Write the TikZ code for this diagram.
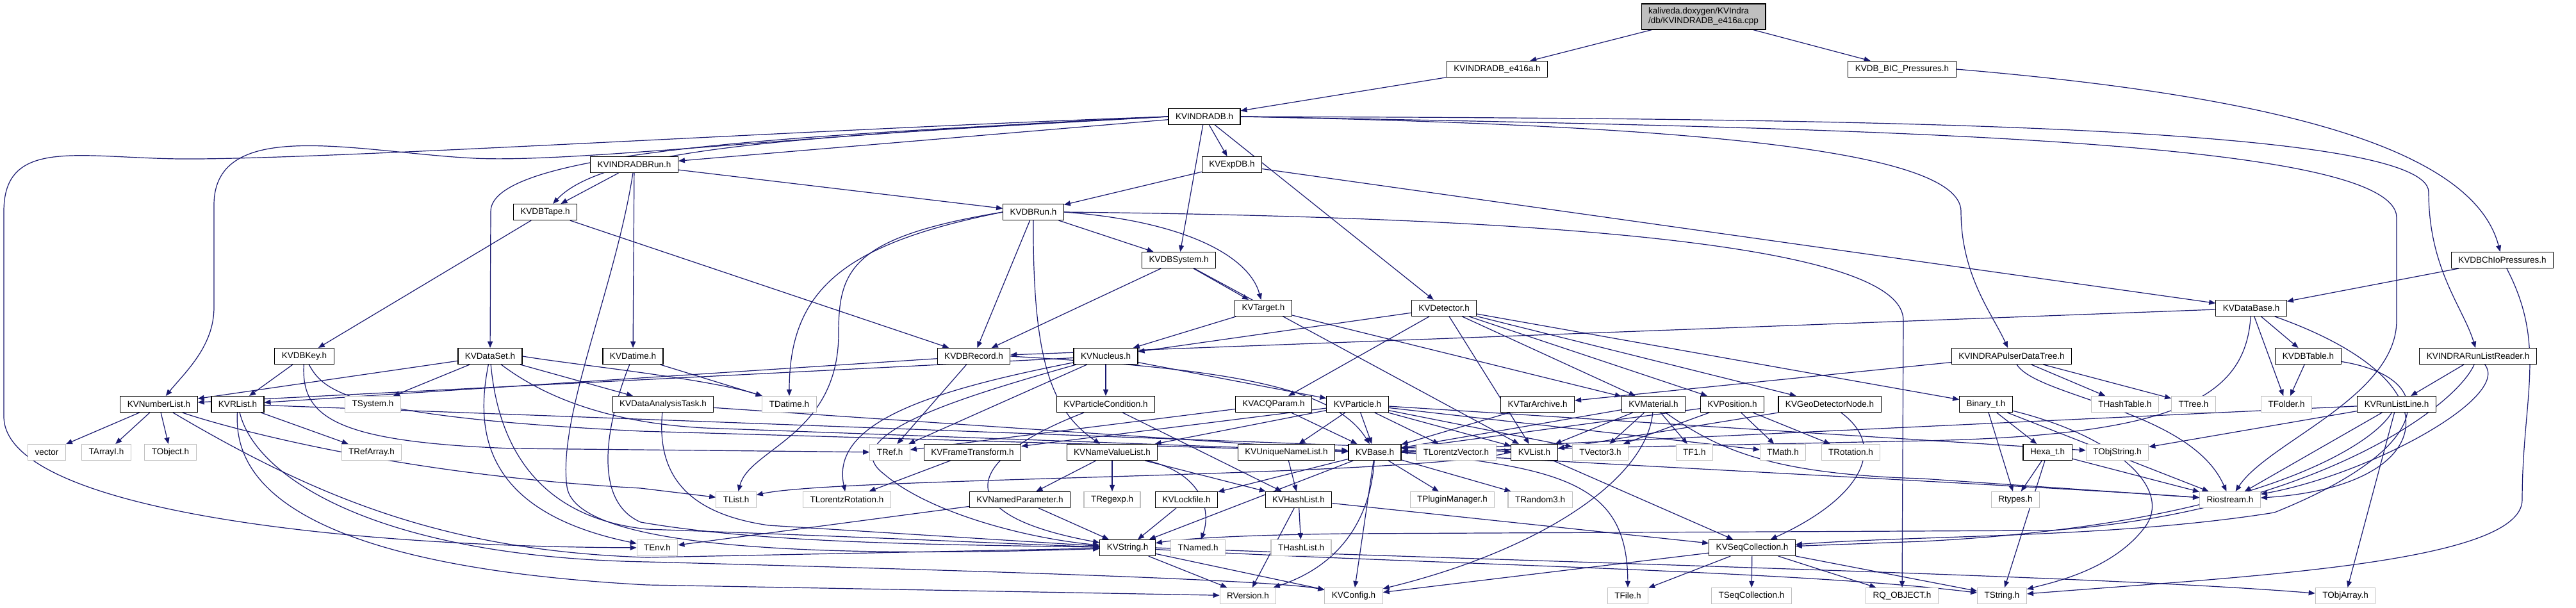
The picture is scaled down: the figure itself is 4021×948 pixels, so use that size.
\documentclass[tikz,border=0pt]{standalone}
\usepackage{fontspec}
\setmainfont{Liberation Sans}
\usetikzlibrary{arrows.meta,backgrounds}
\definecolor{edgeblue}{RGB}{25,25,112}
\definecolor{sysgray}{RGB}{191,191,191}

\begin{document}
\begin{tikzpicture}[
        x=1pt, y=-1pt,
        every node/.style={font=\fontsize{13.5}{15}\selectfont},
        box/.style={draw=black, line width=1.1pt, fill=white, minimum height=25pt, inner xsep=11pt, inner ysep=0pt},
        sysbox/.style={box, draw=sysgray},
        dep/.style={draw=edgeblue, line width=1.2pt, -{Triangle[length=10pt,width=8pt]}},
    ]
        \useasboundingbox (0,0) rectangle (4021,948);

        % --- Source file and first includes ---
        \node[box, fill=sysgray, align=left, minimum height=40pt, inner ysep=3pt] (cpp) at (2659,26)
              {kaliveda.doxygen/KVIndra\\/db/KVINDRADB\_e416a.cpp};
        \node[box] (e416a) at (2337,108) {KVINDRADB\_e416a.h};
        \node[box] (bic)   at (2969,108) {KVDB\_BIC\_Pressures.h};
        \node[box] (indradb) at (1880,182) {KVINDRADB.h};

        % --- Data base classes ---
        \node[box] (indradbrun) at (990,257)  {KVINDRADBRun.h};
        \node[box] (expdb)      at (1923,257) {KVExpDB.h};
        \node[box] (dbtape)     at (851,331)  {KVDBTape.h};
        \node[box] (dbrun)      at (1613,331) {KVDBRun.h};
        \node[box] (dbsystem)   at (1840,406) {KVDBSystem.h};
        \node[box] (dbchio)     at (3906,406) {KVDBChIoPressures.h};
        \node[box] (target)     at (1972,481) {KVTarget.h};
        \node[box] (detector)   at (2254,481) {KVDetector.h};
        \node[box] (database)   at (3514,481) {KVDataBase.h};

        \node[box] (dbkey)      at (475,556)  {KVDBKey.h};
        \node[box] (dataset)    at (765,556)  {KVDataSet.h};
        \node[box] (datime)     at (988,556)  {KVDatime.h};
        \node[box] (dbrecord)   at (1520,556) {KVDBRecord.h};
        \node[box] (nucleus)    at (1726,556) {KVNucleus.h};
        \node[box] (pulser)     at (3140,556) {KVINDRAPulserDataTree.h};
        \node[box] (dbtable)    at (3603,556) {KVDBTable.h};
        \node[box] (listreader) at (3868,556) {KVINDRARunListReader.h};

        % --- Row of helper classes ---
        \node[box]    (numberlist) at (248,631)  {KVNumberList.h};
        \node[box]    (rlist)      at (371,631)  {KVRList.h};
        \node[sysbox] (tsystem)    at (582,631)  {TSystem.h};
        \node[box]    (anatask)    at (1035,631) {KVDataAnalysisTask.h};
        \node[sysbox] (tdatime)    at (1232,631) {TDatime.h};
        \node[box]    (partcond)   at (1726,631) {KVParticleCondition.h};
        \node[box]    (acqparam)   at (1988,631) {KVACQParam.h};
        \node[box]    (particle)   at (2119,631) {KVParticle.h};
        \node[box]    (tararchive) at (2400,631) {KVTarArchive.h};
        \node[box]    (material)   at (2581,631) {KVMaterial.h};
        \node[box]    (position)   at (2704,631) {KVPosition.h};
        \node[box]    (geonode)    at (2856,631) {KVGeoDetectorNode.h};
        \node[box]    (binary)     at (3100,631) {Binary\_t.h};
        \node[sysbox] (thashtable) at (3317,631) {THashTable.h};
        \node[sysbox] (ttree)      at (3424,631) {TTree.h};
        \node[sysbox] (tfolder)    at (3569,631) {TFolder.h};
        \node[box]    (runline)    at (3741,631) {KVRunListLine.h};

        \node[sysbox] (vector)     at (73,706)   {vector};
        \node[sysbox] (tarrayi)    at (166,706)  {TArrayI.h};
        \node[sysbox] (tobject)    at (266,706)  {TObject.h};
        \node[sysbox] (trefarray)  at (580,706)  {TRefArray.h};
        \node[sysbox] (tref)       at (1389,706) {TRef.h};
        \node[box]    (frametrans) at (1518,706) {KVFrameTransform.h};
        \node[box]    (nvlist)     at (1736,706) {KVNameValueList.h};
        \node[box]    (uniqlist)   at (2008,706) {KVUniqueNameList.h};
        \node[box]    (kvbase)     at (2146,706) {KVBase.h};
        \node[sysbox] (tlorvec)    at (2273,706) {TLorentzVector.h};
        \node[box]    (kvlist)     at (2395,706) {KVList.h};
        \node[sysbox] (tvector3)   at (2498,706) {TVector3.h};
        \node[sysbox] (tf1)        at (2645,706) {TF1.h};
        \node[sysbox] (tmath)      at (2783,706) {TMath.h};
        \node[sysbox] (trotation)  at (2889,706) {TRotation.h};
        \node[box]    (hexa)       at (3196,706) {Hexa\_t.h};
        \node[sysbox] (tobjstring) at (3305,706) {TObjString.h};

        \node[sysbox] (tlist)      at (1149,780) {TList.h};
        \node[sysbox] (tlorrot)    at (1322,780) {TLorentzRotation.h};
        \node[box]    (namedpar)   at (1592,780) {KVNamedParameter.h};
        \node[sysbox] (tregexp)    at (1736,780) {TRegexp.h};
        \node[box]    (lockfile)   at (1852,780) {KVLockfile.h};
        \node[box]    (hashlist)   at (2027,780) {KVHashList.h};
        \node[sysbox] (tplugin)    at (2267,780) {TPluginManager.h};
        \node[sysbox] (trandom)    at (2404,780) {TRandom3.h};
        \node[sysbox] (rtypes)     at (3146,780) {Rtypes.h};
        \node[sysbox] (riostream)  at (3481,780) {Riostream.h};

        \node[sysbox] (tenv)       at (1026,855) {TEnv.h};
        \node[box]    (kvstring)   at (1760,855) {KVString.h};
        \node[sysbox] (tnamed)     at (1870,855) {TNamed.h};
        \node[sysbox] (thashlist)  at (2031,855) {THashList.h};
        \node[box]    (seqcoll)    at (2735,855) {KVSeqCollection.h};

        \node[sysbox] (rversion)   at (1948,930) {RVersion.h};
        \node[sysbox] (kvconfig)   at (2113,930) {KVConfig.h};
        \node[sysbox] (tfile)      at (2541,930) {TFile.h};
        \node[sysbox] (tseqcoll)   at (2734,930) {TSeqCollection.h};
        \node[sysbox] (rqobject)   at (2969,930) {RQ\_OBJECT.h};
        \node[sysbox] (tstring)    at (3125,930) {TString.h};
        \node[sysbox] (tobjarray)  at (3661,930) {TObjArray.h};

        \begin{scope}[on background layer]
        % --- top ---
        \draw[dep] (cpp) -- (e416a);
        \draw[dep] (cpp) -- (bic);
        \draw[dep] (e416a) -- (indradb);
        \draw[dep] (bic.east) .. controls (3550,150) and (3860,230) .. (dbchio);

        % --- KVINDRADB.h ---
        \draw[dep] (indradb) -- (indradbrun);
        \draw[dep] (indradb) -- (expdb);
        \draw[dep] (indradb) -- (dbsystem);
        \draw[dep] (indradb) -- (detector);
        \draw[dep] (indradb.west) .. controls (1300,212) and (950,225) .. (dbtape);
        \draw[dep] (indradb.west) .. controls (1300,210) and (766,230) .. (766,330) -- (dataset);
        \draw[dep] (indradb.west) .. controls (1300,205) and (900,255) .. (740,247)
              .. controls (560,238) and (334,180) .. (334,320) -- (334,480) .. controls (334,540) and (290,580) .. (numberlist);
        \draw[dep] (indradb.west) .. controls (1300,200) and (500,250) .. (280,248)
              .. controls (120,246) and (6,215) .. (6,330) -- (6,650) .. controls (6,790) and (500,853) .. (tenv);
        \draw[dep] (indradb.east) .. controls (2600,195) and (3061,230) .. (3061,330) .. controls (3061,430) and (3110,490) .. (pulser);
        \draw[dep] (indradb.east) .. controls (2900,200) and (3741,215) .. (3741,340) -- (3741,500) .. controls (3741,620) and (3540,690) .. (riostream);
        \draw[dep] (indradb.east) .. controls (2800,185) and (3791,190) .. (3791,300) .. controls (3791,420) and (3845,480) .. (listreader);

        % --- run and tape ---
        \draw[dep] (indradbrun) -- (dbtape);
        \draw[dep] (indradbrun) -- (dbrun);
        \draw[dep] (indradbrun) -- (datime);
        \draw[dep] (indradbrun) .. controls (960,450) and (870,650) .. (885,760) .. controls (900,860) and (1300,870) .. (kvstring);
        \draw[dep] (expdb) -- (dbrun);
        \draw[dep] (expdb) -- (database);
        \draw[dep] (dbtape) -- (dbkey);
        \draw[dep] (dbtape) -- (dbrecord);
        \draw[dep] (dbrun) -- (dbsystem);
        \draw[dep] (dbrun) -- (dbrecord);
        \draw[dep] (dbrun.east) .. controls (1850,345) and (1950,400) .. (target);
        \draw[dep] (dbrun.west) .. controls (1320,380) and (1232,450) .. (tdatime);
        \draw[dep] (dbrun.west) .. controls (1330,370) and (1309,420) .. (1309,520) .. controls (1309,680) and (1170,700) .. (tlist);
        \draw[dep] (dbrun) .. controls (1612,560) and (1640,640) .. (nvlist);
        \draw[dep] (dbrun.east) .. controls (2500,340) and (2971,390) .. (2971,500) -- (rqobject);
        \draw[dep] (dbsystem) -- (dbrecord);
        \draw[dep] (dbsystem) -- (target);
        \draw[dep] (dbsystem) -- (kvlist);
        \draw[dep] (target) -- (nucleus);
        \draw[dep] (target) -- (material);

        % --- KVDetector.h ---
        \draw[dep] (detector) -- (acqparam);
        \draw[dep] (detector) -- (material);
        \draw[dep] (detector) -- (position);
        \draw[dep] (detector) -- (geonode);
        \draw[dep] (detector) -- (kvlist);
        \draw[dep] (detector) -- (nucleus);
        \draw[dep] (detector) -- (binary);

        % --- KVDataBase.h and its users ---
        \draw[dep] (database) -- (dbrecord);
        \draw[dep] (database) -- (dbtable);
        \draw[dep] (database) -- (tfolder);
        \draw[dep] (database) .. controls (3505,620) and (3400,680) .. (3000,688) -- (kvbase);
        \draw[dep] (database) .. controls (3850,600) and (3800,760) .. (riostream);
        \draw[dep] (dbchio) -- (database);
        \draw[dep] (dbchio) .. controls (3976,540) and (3937,620) .. (3937,780) .. controls (3937,880) and (3500,900) .. (tstring);
        \draw[dep] (dbtable) -- (tfolder);
        \draw[dep] (dbtable) .. controls (3812,590) and (3800,700) .. (3550,800) .. controls (3300,840) and (3000,835) .. (seqcoll);
        \draw[dep] (listreader) -- (runline);
        \draw[dep] (listreader) .. controls (3920,620) and (3700,740) .. (riostream);
        \draw[dep] (listreader) .. controls (3830,640) and (3600,800) .. (3200,828) -- (2100,833) .. controls (1950,835) and (1850,840) .. (kvstring);
        \draw[dep] (runline) -- (tobjstring);
        \draw[dep] (runline) -- (riostream);
        \draw[dep] (runline) -- (tobjarray);
        \draw[dep] (runline) -- (kvbase);
        \draw[dep] (runline) .. controls (3700,700) and (3500,820) .. (3000,845) -- (seqcoll);
        \draw[dep] (pulser) -- (thashtable);
        \draw[dep] (pulser) -- (ttree);
        \draw[dep] (pulser) -- (tararchive);
        \draw[dep] (pulser) .. controls (3180,620) and (3420,640) .. (riostream);
        \draw[dep] (binary) -- (hexa);
        \draw[dep] (binary) -- (rtypes);
        \draw[dep] (binary) -- (riostream);
        \draw[dep] (binary) .. controls (3300,680) and (3390,760) .. (3350,820) .. controls (3300,890) and (3200,910) .. (tstring);
        \draw[dep] (hexa) -- (rtypes);
        \draw[dep] (hexa) -- (tstring);
        \draw[dep] (hexa) -- (riostream);

        % --- left side ---
        \draw[dep] (dbkey) -- (rlist);
        \draw[dep] (dbkey) .. controls (470,650) and (520,690) .. (800,700) -- (tref);
        \draw[dep] (dbkey) .. controls (505,610) and (540,650) .. (1000,673) -- (kvbase);
        \draw[dep] (rlist) -- (trefarray);
        \draw[dep] (rlist) -- (kvlist);
        \draw[dep] (rlist) .. controls (367,720) and (400,880) .. (1010,913) -- (rversion);
        \draw[dep] (rlist) .. controls (400,750) and (600,870) .. (1010,877) .. controls (1500,890) and (1990,905) .. (kvconfig);
        \draw[dep] (numberlist) -- (vector);
        \draw[dep] (numberlist) -- (tarrayi);
        \draw[dep] (numberlist) -- (tobject);
        \draw[dep] (numberlist) .. controls (330,660) and (600,740) .. (1000,762) -- (tlist);
        \draw[dep] (numberlist) .. controls (500,780) and (700,860) .. (1010,870) -- (kvstring);
        \draw[dep] (dataset) -- (numberlist);
        \draw[dep] (dataset) -- (tsystem);
        \draw[dep] (dataset) -- (anatask);
        \draw[dep] (dataset.east) .. controls (900,570) and (1100,590) .. (tdatime);
        \draw[dep] (dataset) .. controls (740,680) and (760,800) .. (tenv);
        \draw[dep] (dataset) .. controls (780,720) and (860,810) .. (1010,826) .. controls (1400,840) and (1600,850) .. (kvstring);
        \draw[dep] (dataset) .. controls (850,620) and (950,660) .. (1100,668) -- (kvbase);
        \draw[dep] (datime) -- (tdatime);
        \draw[dep] (datime) .. controls (950,650) and (920,780) .. (1000,815) .. controls (1200,850) and (1500,850) .. (kvstring);
        \draw[dep] (anatask) .. controls (1026,730) and (1060,800) .. (1200,820) -- (kvstring);
        \draw[dep] (anatask) -- (kvbase);

        % --- records, nuclei, particles ---
        \draw[dep] (dbrecord) -- (rlist);
        \draw[dep] (dbrecord) -- (tref);
        \draw[dep] (dbrecord.east) .. controls (1900,575) and (2080,600) .. (kvbase);
        \draw[dep] (nucleus) -- (partcond);
        \draw[dep] (nucleus) -- (particle);
        \draw[dep] (nucleus) -- (numberlist);
        \draw[dep] (nucleus) -- (tref);
        \draw[dep] (nucleus) .. controls (1450,610) and (1296,660) .. (tlorrot);
        \draw[dep] (nucleus) .. controls (1500,620) and (1300,680) .. (1380,740) .. controls (1450,800) and (1600,840) .. (kvstring);
        \draw[dep] (partcond) .. controls (1520,710) and (1460,800) .. (kvstring);
        \draw[dep] (partcond) -- (hashlist);
        \draw[dep] (acqparam) -- (kvbase);
        \draw[dep] (acqparam) -- (tref);
        \draw[dep] (particle) -- (kvbase);
        \draw[dep] (particle) -- (tlorvec);
        \draw[dep] (particle) -- (kvlist);
        \draw[dep] (particle) -- (tvector3);
        \draw[dep] (particle) -- (uniqlist);
        \draw[dep] (particle) -- (nvlist);
        \draw[dep] (particle) -- (frametrans);
        \draw[dep] (particle) -- (tmath);
        \draw[dep] (particle) -- (tobjstring);
        \draw[dep] (tararchive) -- (kvbase);
        \draw[dep] (material) -- (kvbase);
        \draw[dep] (material) -- (kvlist);
        \draw[dep] (material) -- (tvector3);
        \draw[dep] (material) -- (tf1);
        \draw[dep] (material) .. controls (2680,700) and (2760,740) .. (3000,747) -- (riostream);
        \draw[dep] (material) .. controls (2570,750) and (2400,860) .. (kvconfig);
        \draw[dep] (position) -- (tmath);
        \draw[dep] (position) -- (trotation);
        \draw[dep] (position) -- (tvector3);
        \draw[dep] (position) -- (kvbase);
        \draw[dep] (geonode) -- (kvlist);
        \draw[dep] (geonode) .. controls (2950,700) and (2900,780) .. (seqcoll);

        % --- lower levels ---
        \draw[dep] (frametrans) -- (tlorrot);
        \draw[dep] (nvlist) -- (namedpar);
        \draw[dep] (nvlist) -- (tregexp);
        \draw[dep] (nvlist) -- (hashlist);
        \draw[dep] (nvlist) .. controls (1880,740) and (1890,800) .. (tnamed);
        \draw[dep] (namedpar) -- (tenv);
        \draw[dep] (namedpar) -- (kvstring);
        \draw[dep] (lockfile) -- (kvstring);
        \draw[dep] (uniqlist) -- (hashlist);
        \draw[dep] (hashlist) -- (thashlist);
        \draw[dep] (hashlist) -- (seqcoll);
        \draw[dep] (hashlist) -- (rversion);
        \draw[dep] (kvbase) -- (kvstring);
        \draw[dep] (kvbase) -- (lockfile);
        \draw[dep] (kvbase) -- (tplugin);
        \draw[dep] (kvbase) -- (trandom);
        \draw[dep] (kvbase) -- (kvconfig);
        \draw[dep] (kvbase) .. controls (2140,800) and (2100,880) .. (rversion);
        \draw[dep] (kvbase.east) .. controls (2450,730) and (2540,760) .. (tfile);
        \draw[dep] (kvbase.east) .. controls (2600,730) and (3200,760) .. (riostream);
        \draw[dep] (kvlist) -- (seqcoll);
        \draw[dep] (kvlist.west) .. controls (2200,745) and (1300,745) .. (tlist);
        \draw[dep] (kvstring) -- (rversion);
        \draw[dep] (kvstring) -- (kvconfig);
        \draw[dep] (kvstring) .. controls (2200,880) and (2800,890) .. (tstring);
        \draw[dep] (kvstring.east) .. controls (2500,880) and (3300,900) .. (tobjarray);
        \draw[dep] (seqcoll) -- (tfile);
        \draw[dep] (seqcoll) -- (tseqcoll);
        \draw[dep] (seqcoll) -- (rqobject);
        \draw[dep] (seqcoll) -- (kvconfig);
        \draw[dep] (seqcoll) -- (tstring);
        \end{scope}

    \end{tikzpicture}
\end{document}
